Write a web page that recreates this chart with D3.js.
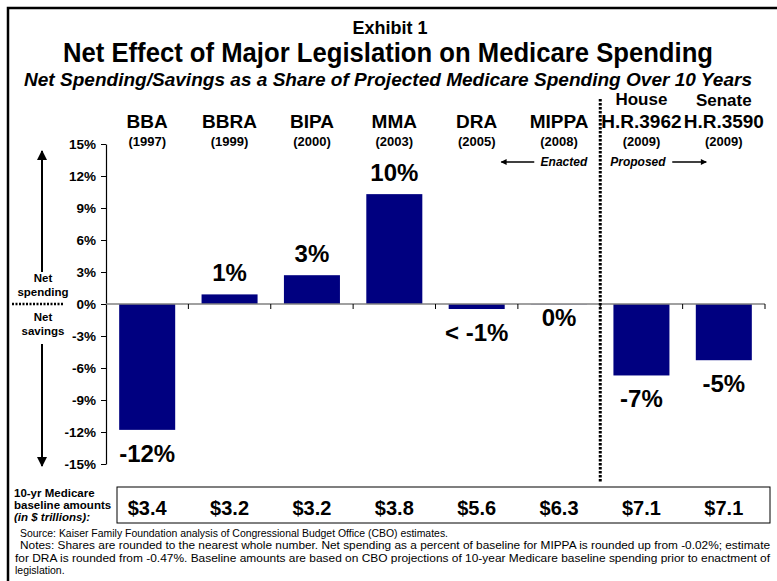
<!DOCTYPE html>
<html>
<head>
<meta charset="utf-8">
<script src="https://cdn.jsdelivr.net/npm/d3@7"></script>
<style>
  body { margin: 0; background: #fff; }
  text { font-family: "Liberation Sans", Arial, sans-serif; }
</style>
</head>
<body>
<script>
const panel_width = 777;
const panel_height = 581;

const acts = ["BBA", "BBRA", "BIPA", "MMA", "DRA", "MIPPA", "H.R.3962", "H.R.3590"];
const chambers = ["", "", "", "", "", "", "House", "Senate"];
const years = ["(1997)", "(1999)", "(2000)", "(2003)", "(2005)", "(2008)", "(2009)", "(2009)"];
const shares = [-11.8, 0.9, 2.7, 10.3, -0.47, -0.02, -6.7, -5.27];
const shareLabels = ["-12%", "1%", "3%", "10%", "< -1%", "0%", "-7%", "-5%"];
const baselines = ["$3.4", "$3.2", "$3.2", "$3.8", "$5.6", "$6.3", "$7.1", "$7.1"];
const yTicks = [-15, -12, -9, -6, -3, 0, 3, 6, 9, 12, 15];

const notes = [
    "Source: Kaiser Family Foundation analysis of Congressional Budget Office (CBO) estimates.",
    "Notes: Shares are rounded to the nearest whole number. Net spending as a percent of baseline for MIPPA is rounded up from -0.02%; estimate",
    "for DRA is rounded from -0.47%.  Baseline amounts are based on CBO projections of 10-year Medicare baseline spending prior to enactment of",
    "legislation."
];

const navy = "#000080";

const svg = d3.select("body")
    .append("svg")
    .attr("width", panel_width)
    .attr("height", panel_height);

const defs = svg.append("defs");
defs.append("marker")
    .attr("id", "head")
    .attr("viewBox", "0 0 10 10")
    .attr("refX", 9).attr("refY", 5)
    .attr("markerWidth", 10).attr("markerHeight", 10)
    .attr("markerUnits", "userSpaceOnUse")
    .attr("orient", "auto")
    .append("path")
    .attr("d", "M0,0 L10,5 L0,10 Z")
    .attr("fill", "#000");
defs.append("marker")
    .attr("id", "headSmall")
    .attr("viewBox", "0 0 10 10")
    .attr("refX", 9).attr("refY", 5)
    .attr("markerWidth", 7).attr("markerHeight", 6)
    .attr("markerUnits", "userSpaceOnUse")
    .attr("orient", "auto")
    .append("path")
    .attr("d", "M0,0 L10,5 L0,10 Z")
    .attr("fill", "#000");

// frame (left + top only, rest is cropped off)
svg.append("path")
    .attr("d", "M8,581 L8,8 L777,8")
    .attr("fill", "none")
    .attr("stroke", "#000")
    .attr("stroke-width", 2.5);

// titles
svg.append("text")
    .attr("x", 390).attr("y", 34)
    .attr("text-anchor", "middle")
    .attr("font-size", "18px").attr("font-weight", "bold")
    .text("Exhibit 1");
svg.append("text")
    .attr("x", 388).attr("y", 62)
    .attr("text-anchor", "middle")
    .attr("font-size", "28px").attr("font-weight", "bold")
    .attr("textLength", 650).attr("lengthAdjust", "spacingAndGlyphs")
    .text("Net Effect of Major Legislation on Medicare Spending");
svg.append("text")
    .attr("x", 388).attr("y", 86)
    .attr("text-anchor", "middle")
    .attr("font-size", "18px").attr("font-weight", "bold").attr("font-style", "italic")
    .attr("textLength", 728).attr("lengthAdjust", "spacingAndGlyphs")
    .text("Net Spending/Savings as a Share of Projected Medicare Spending Over 10 Years");

// scales
const x = d3.scaleBand()
    .domain(acts)
    .range([106, 765])
    .paddingInner(0.32)
    .paddingOuter(0.16);
const step = x.step();

const y = d3.scaleLinear()
    .domain([-15, 15])
    .range([464, 144]);

// y axis
const yAxis = svg.append("g")
    .attr("transform", "translate(106,0)")
    .call(d3.axisLeft(y)
        .tickValues(yTicks)
        .tickSize(5)
        .tickSizeOuter(0)
        .tickPadding(5)
        .tickFormat(d => d + "%"));
yAxis.select(".domain").attr("stroke", "#000").attr("stroke-width", 1.2);
yAxis.selectAll(".tick line").attr("stroke", "#000");
yAxis.selectAll(".tick text")
    .attr("font-family", "Liberation Sans, Arial, sans-serif")
    .attr("font-size", "13.5px")
    .attr("font-weight", "bold")
    .attr("fill", "#000");

// bars
svg.selectAll("rect.bar")
    .data(acts)
    .join("rect")
    .attr("class", "bar")
    .attr("x", d => x(d))
    .attr("width", x.bandwidth())
    .attr("y", (d, i) => y(Math.max(0, shares[i])))
    .attr("height", (d, i) => Math.abs(y(shares[i]) - y(0)))
    .attr("fill", navy);

// zero line with category ticks
svg.append("line")
    .attr("x1", 106).attr("x2", 765)
    .attr("y1", y(0)).attr("y2", y(0))
    .attr("stroke", "#808080").attr("stroke-width", 1.5);
svg.selectAll("line.cat-tick")
    .data(acts)
    .join("line")
    .attr("class", "cat-tick")
    .attr("x1", d => x(d) + x.bandwidth() + step * x.paddingInner() / 2)
    .attr("x2", d => x(d) + x.bandwidth() + step * x.paddingInner() / 2)
    .attr("y1", y(0)).attr("y2", y(0) + 5)
    .attr("stroke", "#000").attr("stroke-width", 1);

// value labels
svg.selectAll("text.val")
    .data(acts)
    .join("text")
    .attr("class", "val")
    .attr("x", d => x(d) + x.bandwidth() / 2)
    .attr("y", (d, i) => {
        const v = shares[i];
        if (v >= 0) return y(v) - 13;
        if (v > -0.1) return y(v) + 22;
        return y(v) + 32;
    })
    .attr("text-anchor", "middle")
    .attr("font-size", "24px")
    .attr("font-weight", "bold")
    .text((d, i) => shareLabels[i]);

// category headers
const cx = d => x(d) + x.bandwidth() / 2;
svg.selectAll("text.chamber")
    .data(acts)
    .join("text")
    .attr("class", "chamber")
    .attr("x", cx)
    .attr("y", (d, i) => i === 6 ? 105 : 106)
    .attr("text-anchor", "middle")
    .attr("font-size", "17px")
    .attr("font-weight", "bold")
    .text((d, i) => chambers[i]);
svg.selectAll("text.act")
    .data(acts)
    .join("text")
    .attr("class", "act")
    .attr("x", cx)
    .attr("y", 128)
    .attr("text-anchor", "middle")
    .attr("font-size", "19px")
    .attr("font-weight", "bold")
    .text(d => d);
svg.selectAll("text.year")
    .data(acts)
    .join("text")
    .attr("class", "year")
    .attr("x", cx)
    .attr("y", 146)
    .attr("text-anchor", "middle")
    .attr("font-size", "13px")
    .attr("font-weight", "bold")
    .text((d, i) => years[i]);

// enacted / proposed divider
const divX = x("H.R.3962") - step * x.paddingInner() / 2;
svg.append("line")
    .attr("x1", divX).attr("x2", divX)
    .attr("y1", 99).attr("y2", 483)
    .attr("stroke", "#000").attr("stroke-width", 3)
    .attr("stroke-dasharray", "2.5,1.5");

svg.append("text")
    .attr("x", divX - 13).attr("y", 166)
    .attr("text-anchor", "end")
    .attr("font-size", "12px").attr("font-weight", "bold").attr("font-style", "italic")
    .text("Enacted");
svg.append("line")
    .attr("x1", divX - 66).attr("x2", divX - 99)
    .attr("y1", 162).attr("y2", 162)
    .attr("stroke", "#000").attr("stroke-width", 1.5)
    .attr("marker-end", "url(#headSmall)");
svg.append("text")
    .attr("x", divX + 10).attr("y", 166)
    .attr("font-size", "12px").attr("font-weight", "bold").attr("font-style", "italic")
    .text("Proposed");
svg.append("line")
    .attr("x1", divX + 72).attr("x2", divX + 106)
    .attr("y1", 162).attr("y2", 162)
    .attr("stroke", "#000").attr("stroke-width", 1.5)
    .attr("marker-end", "url(#headSmall)");

// net spending / net savings key on the left
svg.append("line")
    .attr("x1", 42).attr("x2", 42)
    .attr("y1", 272).attr("y2", 151)
    .attr("stroke", "#000").attr("stroke-width", 2)
    .attr("marker-end", "url(#head)");
svg.append("line")
    .attr("x1", 42).attr("x2", 42)
    .attr("y1", 344).attr("y2", 466)
    .attr("stroke", "#000").attr("stroke-width", 2)
    .attr("marker-end", "url(#head)");
svg.append("line")
    .attr("x1", 12).attr("x2", 64)
    .attr("y1", y(0)).attr("y2", y(0))
    .attr("stroke", "#000").attr("stroke-width", 2.5)
    .attr("stroke-dasharray", "2,1.5");

[["Net", 282], ["spending", 296], ["Net", 321], ["savings", 335]].forEach(([t, yy]) => {
    svg.append("text")
        .attr("x", 43).attr("y", yy)
        .attr("text-anchor", "middle")
        .attr("font-size", "11.5px").attr("font-weight", "bold")
        .text(t);
});

// baseline table
svg.append("rect")
    .attr("x", 117).attr("y", 487)
    .attr("width", 653).attr("height", 36)
    .attr("fill", "none")
    .attr("stroke", "#000").attr("stroke-width", 1);
svg.selectAll("text.base")
    .data(acts)
    .join("text")
    .attr("class", "base")
    .attr("x", cx)
    .attr("y", 515)
    .attr("text-anchor", "middle")
    .attr("font-size", "20px")
    .attr("font-weight", "bold")
    .text((d, i) => baselines[i]);

[["10-yr Medicare", 497, "normal"], ["baseline amounts", 509, "normal"], ["(in $ trillions):", 521, "italic"]]
    .forEach(([t, yy, st]) => {
        svg.append("text")
            .attr("x", 14).attr("y", yy)
            .attr("font-size", "11.5px").attr("font-weight", "bold")
            .attr("font-style", st)
            .text(t);
    });

// source / notes
const noteX = [20, 20, 15, 15];
const noteW = [428, 750, 755, null];
notes.forEach((t, i) => {
    const txt = svg.append("text")
        .attr("x", noteX[i]).attr("y", 537 + i * 12.3)
        .attr("font-size", "10.5px")
        .text(t);
    if (noteW[i]) txt.attr("textLength", noteW[i]).attr("lengthAdjust", "spacingAndGlyphs");
});
</script>
</body>
</html>
